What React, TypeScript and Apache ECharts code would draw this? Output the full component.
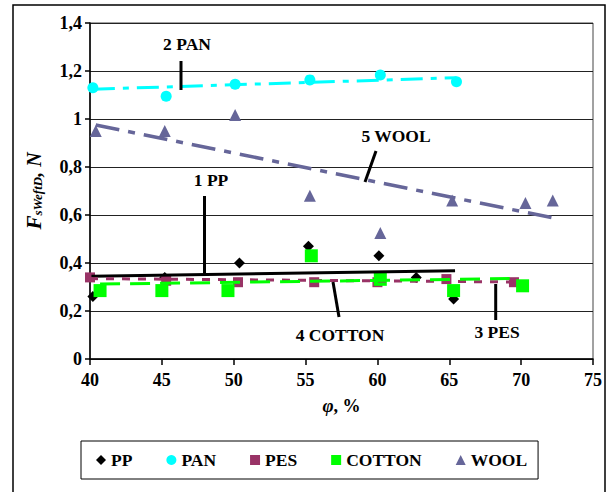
import React, { useEffect, useRef } from "react";
import * as echarts from "echarts";

// Measured points: [φ, %  ;  force, N]
const ppPoints: [number, number][] = [
  [40.2, 0.26], [45.2, 0.34], [50.4, 0.4], [55.2, 0.47], [60.1, 0.43], [62.7, 0.34], [65.3, 0.25],
];
const panPoints: [number, number][] = [
  [40.2, 1.13], [45.3, 1.095], [50.1, 1.145], [55.3, 1.163], [60.2, 1.183], [65.5, 1.155],
];
const pesPoints: [number, number][] = [
  [40.0, 0.34], [45.3, 0.326], [50.3, 0.32], [55.6, 0.32], [60.0, 0.32], [64.8, 0.333], [69.5, 0.32],
];
const cottonPoints: [number, number][] = [
  [40.7, 0.285], [45.0, 0.285], [49.6, 0.285], [55.4, 0.43], [60.2, 0.332], [65.3, 0.285], [70.1, 0.305],
];
const woolPoints: [number, number][] = [
  [40.4, 0.95], [45.2, 0.95], [50.1, 1.017], [55.3, 0.68], [60.2, 0.525], [65.2, 0.66], [70.3, 0.65], [72.2, 0.66],
];

// Linear trend lines (start and end points)
const ppTrend: [number, number][] = [[40.1, 0.345], [65.4, 0.368]];
const panTrend: [number, number][] = [[40.2, 1.124], [65.5, 1.172]];
const pesTrend: [number, number][] = [[40.0, 0.335], [69.5, 0.321]];
const cottonTrend: [number, number][] = [[40.7, 0.312], [69.2, 0.335]];
const woolTrend: [number, number][] = [[40.4, 0.975], [72.3, 0.587]];

const seriesNames = ["PP", "PAN", "PES", "COTTON", "WOOL"];

const FONT = "'Liberation Serif', 'Times New Roman', serif";
const black = "#000000";

// Callout labels with leader lines, in pixels
const callouts = [
  { text: "2 PAN", tx: 187, ty: 44, line: [181, 61, 181, 90] },
  { text: "1 PP", tx: 211, ty: 180, line: [204.5, 196, 204.5, 274] },
  { text: "5 WOOL", tx: 396, ty: 136, line: [376, 151, 365, 182] },
  { text: "4 COTTON", tx: 340, ty: 335, line: [333, 282, 339, 317] },
  { text: "3 PES", tx: 497, ty: 332, line: [495.7, 284, 495.7, 320] },
];

export default function App() {
  const ref = useRef<HTMLDivElement>(null);

  useEffect(() => {
    if (!ref.current) return;
    const chart = echarts.init(ref.current, undefined, { renderer: "svg" });

    const scatter = (name: string, data: [number, number][], symbol: string, size: number, color: string) => ({
      name,
      type: "scatter",
      data,
      symbol,
      symbolSize: size,
      itemStyle: { color, opacity: 1 },
      z: 3,
    });

    const trend = (data: [number, number][], color: string, width: number, type: any) => ({
      type: "line",
      data,
      symbol: "none",
      lineStyle: { color, width, type },
      silent: true,
      z: 4,
    });

    const graphics: any[] = [
      {
        type: "rect",
        shape: { x: 13, y: 5, width: 592, height: 520 },
        style: { fill: "none", stroke: black, lineWidth: 1.5 },
        z: 0,
        silent: true,
      },
    ];
    callouts.forEach((c) => {
      graphics.push({
        type: "text",
        x: c.tx,
        y: c.ty,
        style: {
          text: c.text,
          font: `bold 17.5px ${FONT}`,
          fill: black,
          align: "center",
          verticalAlign: "middle",
        },
        z: 10,
      });
      graphics.push({
        type: "line",
        shape: { x1: c.line[0], y1: c.line[1], x2: c.line[2], y2: c.line[3] },
        style: { stroke: black, lineWidth: 3 },
        z: 10,
      });
    });

    chart.setOption({
      animation: false,
      backgroundColor: "#ffffff",
      grid: {
        left: 90,
        top: 23,
        right: 15,
        bottom: 133,
        show: true,
        borderColor: "#444",
        borderWidth: 1,
      },
      xAxis: {
        type: "value",
        min: 40,
        max: 75,
        interval: 5,
        name: "{phi|φ}{r|, %}",
        nameLocation: "middle",
        nameGap: 37,
        nameTextStyle: {
          rich: {
            phi: { fontFamily: FONT, fontSize: 19, fontStyle: "italic", fontWeight: "bold", color: black },
            r: { fontFamily: FONT, fontSize: 18, fontWeight: "bold", color: black },
          },
        },
        axisLine: { lineStyle: { color: black, width: 1.5 } },
        axisTick: { show: true, inside: false, length: 6, lineStyle: { color: black, width: 1.5 } },
        axisLabel: { fontFamily: FONT, fontSize: 18, fontWeight: "bold", color: black, margin: 12 },
        splitLine: { show: false },
      },
      yAxis: {
        type: "value",
        min: 0,
        max: 1.4,
        interval: 0.2,
        name: "{f|F}{s|sWeftD}{n|, N}",
        nameLocation: "middle",
        nameRotate: 90,
        nameGap: 46,
        nameTextStyle: {
          rich: {
            f: { fontFamily: FONT, fontSize: 21, fontStyle: "italic", fontWeight: "bold", color: black },
            s: { fontFamily: FONT, fontSize: 13, fontStyle: "italic", fontWeight: "bold", color: black, padding: [8, 0, 0, 0] },
            n: { fontFamily: FONT, fontSize: 20, fontStyle: "italic", fontWeight: "bold", color: black },
          },
        },
        axisLine: { show: true, lineStyle: { color: black, width: 1.5 } },
        axisTick: { show: true, inside: false, length: 5, lineStyle: { color: black, width: 1.5 } },
        axisLabel: {
          fontFamily: FONT,
          fontSize: 18,
          fontWeight: "bold",
          color: black,
          margin: 8,
          formatter: (v: number) => String(Number(v.toFixed(1))).replace(".", ","),
        },
        splitLine: { show: true, lineStyle: { color: "#222", width: 1 } },
      },
      legend: {
        data: seriesNames,
        left: 81,
        top: 441,
        orient: "horizontal",
        padding: [10, 11, 10, 15],
        itemGap: 34,
        itemWidth: 10,
        itemHeight: 10,
        borderColor: black,
        borderWidth: 1,
        borderRadius: 0,
        textStyle: { fontFamily: FONT, fontSize: 17.5, fontWeight: "bold", color: black },
      },
      series: [
        scatter("PP", ppPoints, "diamond", 11, "#000000"),
        scatter("PAN", panPoints, "circle", 11, "#00FFFF"),
        scatter("PES", pesPoints, "rect", 10, "#993366"),
        scatter("COTTON", cottonPoints, "rect", 13, "#00FF00"),
        scatter("WOOL", woolPoints, "triangle", 12, "#666699"),
        trend(ppTrend, "#000000", 3, "solid"),
        trend(panTrend, "#00FFFF", 3, [22, 8, 6, 8]),
        trend(pesTrend, "#993366", 3, [8, 8]),
        trend(cottonTrend, "#00FF00", 3, [20, 10]),
        trend(woolTrend, "#666699", 3.5, [24, 9, 7, 9]),
      ],
      graphic: graphics,
    });

    return () => chart.dispose();
  }, []);

  return (
    <div
      ref={ref}
      style={{ position: "fixed", left: 0, top: 0, width: 608, height: 492, background: "#fff" }}
    />
  );
}
